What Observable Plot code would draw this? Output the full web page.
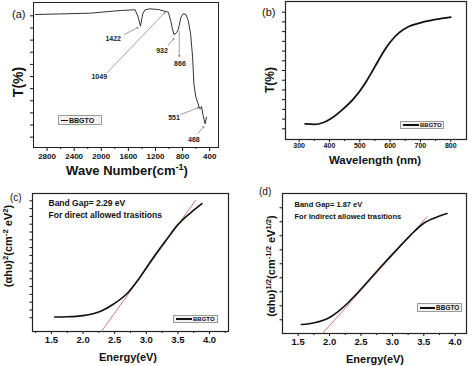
<!DOCTYPE html>
<html><head><meta charset="utf-8">
<script src="https://cdn.jsdelivr.net/npm/d3@7"></script>
<script src="https://cdn.jsdelivr.net/npm/@observablehq/plot@0.6"></script>
<style>
body{margin:0;background:#fff;}
#fig{position:relative;width:474px;height:366px;overflow:hidden;font-family:"Liberation Sans",Arial,sans-serif;color:#111;background:#fff;}
.panel{position:absolute;}
.lbl{position:absolute;font-weight:bold;white-space:nowrap;line-height:1;}
.rot{transform:translate(-50%,-50%) rotate(-90deg);}
.ctr{transform:translate(-50%,-50%);}
sup{font-size:70%;vertical-align:0.45em;line-height:0;}
.leg{position:absolute;border:1px solid #9a9a9a;background:#f2f2f2;box-sizing:border-box;display:flex;align-items:center;font-weight:bold;white-space:nowrap;}
.leg span.ln{display:inline-block;background:#111;margin-right:1px;}
</style></head>
<body><div id="fig"></div>
<script>
// ---------- (a) FTIR spectrum ----------
const ftirWavenumber = [2970, 2160, 1720, 1500, 1455, 1422, 1388, 1354, 1280, 1158, 1060, 1011, 976, 950, 928, 890, 866, 849, 824, 791, 751, 717, 682, 652, 633, 604, 570, 551, 538, 520, 497, 468, 447];
const ftirT = [101.1, 102.2, 104.4, 105.0, 98.9, 91.5, 101.7, 105.0, 105.8, 105.2, 103.8, 103.0, 96.2, 89.3, 84.6, 86.0, 88.5, 92.1, 98.9, 101.7, 101.1, 96.2, 85.2, 65.9, 44.0, 33.0, 27.5, 23.8, 23.4, 25.3, 17.9, 11.0, 16.5];
const ftirLabels = ["1422", "1049", "932", "866", "551", "468"];
const ftirLabelWn = [1824, 2030, 1104, 839, 927, 633];
const ftirLabelT = [81.3, 50.0, 71.4, 60.7, 16.2, -1.9];
const ftirArrowFromWn = [1662, 1912, 1016, 849, 824, 575];
const ftirArrowFromT = [84.6, 53.3, 75.6, 87.1, 18.7, 3.0];
const ftirArrowToWn = [1456, 1060, 927, 849, 560, 486];
const ftirArrowToT = [90.4, 102.8, 81.3, 66.5, 24.5, 8.8];
const ftirXTicks = [2800, 2400, 2000, 1600, 1200, 800, 400];
const ftirXMinor = [2600, 2200, 1800, 1400, 1000, 600];
const ftirYTicks = [0, 10, 20, 30, 40, 50, 60, 70, 80, 90, 100];

// ---------- (b) UV-vis transmittance ----------
const uvWavelength = [320, 350, 380, 400, 440, 480, 520, 550, 580, 600, 630, 660, 700, 750, 800];
const uvT = [5, 4.5, 6.5, 9.5, 19, 31, 48, 64, 80, 89, 99, 105, 109, 112.5, 115];
const uvXTicks = [300, 400, 500, 600, 700, 800];
const uvXMinor = [350, 450, 550, 650, 750];
const uvYTicks = [0, 10, 20, 30, 40, 50, 60, 70, 80, 90, 100, 110, 120];

// ---------- (c) direct Tauc plot ----------
const energyC = [1.55, 1.75, 2.0, 2.28, 2.49, 2.7, 2.86, 3.02, 3.17, 3.33, 3.49, 3.62, 3.75, 3.88];
const directC = [1, 1.3, 2.8, 8.5, 18, 31.5, 47.5, 66.5, 84, 101.5, 118.5, 129, 138, 146.5];
const fitEnergyC = [2.29, 3.78];
const fitDirectC = [-17.6, 150.8];
const noteC = ["Band Gap= 2.29 eV", "For direct allowed trasitions"];

// ---------- (d) indirect Tauc plot ----------
const energyD = [1.55, 1.76, 1.97, 2.13, 2.29, 2.45, 2.66, 2.82, 2.98, 3.13, 3.29, 3.51, 3.72, 3.87];
const indirectD = [-3.4, -2.1, 0.9, 5.7, 12, 19.5, 30, 38, 45.8, 53, 60.5, 69.3, 73.6, 75.9];
const fitEnergyD = [1.887, 3.55];
const fitIndirectD = [-9.8, 73.6];
const noteD = ["Band Gap= 1.87 eV", "For Indirect allowed trasitions"];

const eTicks = [1.5, 2.0, 2.5, 3.0, 3.5, 4.0];
const eMinorC = [1.25, 1.75, 2.25, 2.75, 3.25, 3.75, 4.25];
const eMinorD = [1.75, 2.25, 2.75, 3.25, 3.75];
const cYTicks = [0, 10, 20, 30, 40, 50, 60, 70, 80, 90, 100, 110, 120, 130, 140, 150];
const dYTicks = [0, 10, 20, 30, 40, 50, 60, 70, 80];

const seriesName = "BBGTO";

const font = "Liberation Sans, Arial, sans-serif";
const blank = () => "";
const zip = (xs, ys) => xs.map((x, i) => ({x, y: ys[i]}));

const fig = document.getElementById("fig");
function place(svg, left, top) {
  const d = document.createElement("div");
  d.className = "panel"; d.style.left = left + "px"; d.style.top = top + "px";
  d.appendChild(svg); fig.appendChild(d);
}
function html(str, cls, left, top, size, extra) {
  const d = document.createElement("div");
  d.className = "lbl " + (cls || "");
  d.style.left = left + "px"; d.style.top = top + "px"; d.style.fontSize = size + "px";
  if (extra) Object.assign(d.style, extra);
  d.innerHTML = str; fig.appendChild(d);
}
function legend(left, top, w, h, lineW, lineH, fs) {
  const d = document.createElement("div");
  d.className = "leg";
  Object.assign(d.style, {left: left + "px", top: top + "px", width: w + "px", height: h + "px", fontSize: fs + "px", paddingLeft: "2px"});
  d.innerHTML = `<span class="ln" style="width:${lineW}px;height:${lineH}px"></span>${seriesName}`;
  fig.appendChild(d);
}
const noteMarks = (lines, dx, dy0, fs) => lines.map((s, i) =>
  Plot.text([s], {frameAnchor: "top-left", dx, dy: dy0 + 12 * i, textAnchor: "start", lineAnchor: "middle", fontSize: fs, fill: "#111"}));

// Panel (a)
const annA = ftirLabels.map((t, i) => ({t, x: ftirLabelWn[i], y: ftirLabelT[i], x1: ftirArrowFromWn[i], y1: ftirArrowFromT[i], x2: ftirArrowToWn[i], y2: ftirArrowToT[i]}));
place(Plot.plot({
  width: 237, height: 183, marginLeft: 33, marginRight: 19, marginTop: 2, marginBottom: 36,
  style: {fontFamily: font, fontWeight: "bold", fontSize: "8px", color: "#111", background: "transparent", overflow: "visible"},
  x: {domain: [3000, 270]}, y: {domain: [-8.5, 111]},
  marks: [
    Plot.axisX({ticks: ftirXMinor, tickSize: 2, tickFormat: blank, label: null}),
    Plot.axisX({ticks: ftirXTicks, tickSize: 4, tickPadding: 2, tickFormat: d3.format("d"), label: null}),
    Plot.axisY({ticks: ftirYTicks, tickSize: 3, tickFormat: blank, label: null}),
    Plot.frame({stroke: "#222", strokeWidth: 1}),
    Plot.arrow(annA, {x1: "x1", y1: "y1", x2: "x2", y2: "y2", stroke: "#777", strokeWidth: 0.7, headLength: 3}),
    Plot.text(annA, {x: "x", y: "y", text: "t", fontSize: 7, fill: "#222"}),
    Plot.line(zip(ftirWavenumber, ftirT), {x: "x", y: "y", stroke: "#333", strokeWidth: 1})
  ]
}), 0, 0);

// Panel (b)
place(Plot.plot({
  width: 237, height: 183, marginLeft: 48, marginRight: 8, marginTop: 1, marginBottom: 44,
  style: {fontFamily: font, fontWeight: "bold", fontSize: "7px", color: "#111", background: "transparent", overflow: "visible"},
  x: {domain: [255, 852]}, y: {domain: [-11, 131]},
  marks: [
    Plot.axisX({ticks: uvXMinor, tickSize: 2, tickFormat: blank, label: null}),
    Plot.axisX({ticks: uvXTicks, tickSize: 3, tickPadding: 1, tickFormat: d3.format("d"), label: null}),
    Plot.axisY({ticks: uvYTicks, tickSize: 3, tickFormat: blank, label: null}),
    Plot.frame({stroke: "#222", strokeWidth: 1.2}),
    Plot.line(zip(uvWavelength, uvT), {x: "x", y: "y", stroke: "#111", strokeWidth: 1.8, curve: "monotone-x"})
  ]
}), 237, 0);

// Panel (c)
place(Plot.plot({
  width: 237, height: 183, marginLeft: 32, marginRight: 9, marginTop: 10, marginBottom: 35,
  style: {fontFamily: font, fontWeight: "bold", fontSize: "9.5px", color: "#111", background: "transparent", overflow: "visible"},
  x: {domain: [1.2, 4.3]}, y: {domain: [-17.6, 159.4]},
  marks: [
    Plot.axisX({ticks: eMinorC, tickSize: 2, tickFormat: blank, label: null}),
    Plot.axisX({ticks: eTicks, tickSize: 3, tickPadding: 2, tickFormat: d3.format(".1f"), label: null}),
    Plot.axisY({ticks: cYTicks, tickSize: 2.5, tickFormat: blank, label: null}),
    Plot.frame({stroke: "#222", strokeWidth: 1.2}),
    Plot.line(zip(fitEnergyC, fitDirectC), {x: "x", y: "y", stroke: "#b85a5a", strokeWidth: 0.8}),
    Plot.line(zip(energyC, directC), {x: "x", y: "y", stroke: "#111", strokeWidth: 1.6, curve: "monotone-x"}),
    ...noteMarks(noteC, 16, 10, 8.5)
  ]
}), 0, 183);

// Panel (d)
place(Plot.plot({
  width: 237, height: 183, marginLeft: 45, marginRight: 8, marginTop: 10, marginBottom: 33,
  style: {fontFamily: font, fontWeight: "bold", fontSize: "9.5px", color: "#111", background: "transparent", overflow: "visible"},
  x: {domain: [1.25, 4.18]}, y: {domain: [-9.8, 90.2]},
  marks: [
    Plot.axisX({ticks: eMinorD, tickSize: 2, tickFormat: blank, label: null}),
    Plot.axisX({ticks: eTicks, tickSize: 3, tickPadding: 2, tickFormat: d3.format(".1f"), label: null}),
    Plot.axisY({ticks: dYTicks, tickSize: 2.5, tickFormat: blank, label: null}),
    Plot.frame({stroke: "#222", strokeWidth: 1.2}),
    Plot.line(zip(fitEnergyD, fitIndirectD), {x: "x", y: "y", stroke: "#b85a5a", strokeWidth: 0.8}),
    Plot.line(zip(energyD, indirectD), {x: "x", y: "y", stroke: "#111", strokeWidth: 1.6, curve: "monotone-x"}),
    ...noteMarks(noteD, 12, 11, 7.5)
  ]
}), 237, 183);

// Titles, panel letters, legends
html("(a)", "", 12, 9, 11, {fontWeight: "normal"});
html("T(%)", "rot", 18, 82, 14);
html("Wave Number(cm<sup>-1</sup>)", "ctr", 127, 170, 13);
legend(58, 115, 44, 10, 7, 1, 7);

html("(b)", "", 262, 7, 11, {fontWeight: "normal"});
html("T(%)", "rot", 270, 80, 12);
html("Wavelength (nm)", "ctr", 375, 161, 11.5);
legend(400, 121, 44, 8, 16, 2, 6);

html("(c)", "", 10, 193, 10, {fontWeight: "normal"});
html("(αhυ)<sup>2</sup>(cm<sup>-2</sup> eV<sup>2</sup>)", "rot", 8, 246, 11);
html("Energy(eV)", "ctr", 128, 357, 11);
legend(173, 315, 45, 8, 16, 2, 6);

html("(d)", "", 259, 187, 10, {fontWeight: "normal"});
html("(αhυ)<sup>1/2</sup>(cm<sup>-1/2</sup> eV<sup>1/2</sup>)", "rot", 271, 266, 11);
html("Energy(eV)", "ctr", 375, 359, 11);
legend(417, 303, 45, 9, 15, 2, 6.5);
</script></body></html>
